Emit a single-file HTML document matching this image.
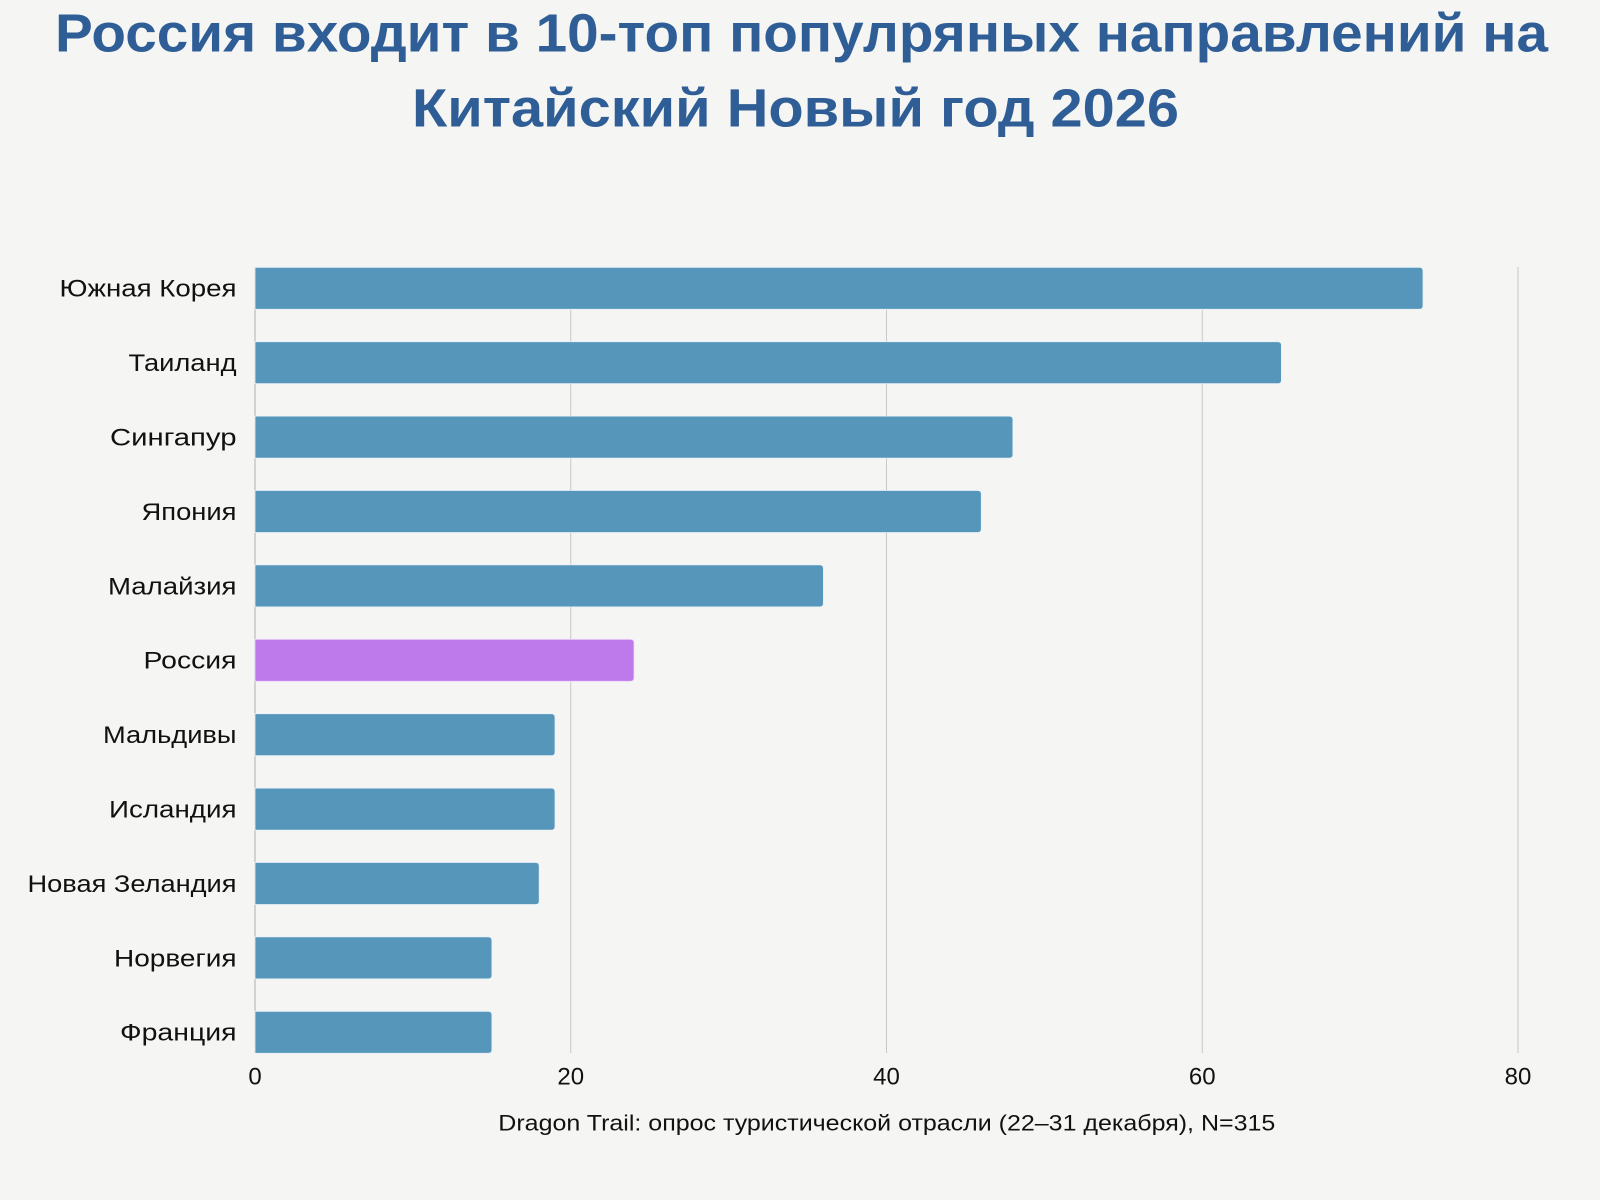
<!DOCTYPE html>
<html>
<head>
<meta charset="utf-8">
<style>
  html,body{margin:0;padding:0;background:#F5F5F3;}
  svg{display:block;}
  .t{font-family:"Liberation Sans",sans-serif;font-weight:bold;fill:#2F5E97;font-size:54px;}
  .l{font-family:"Liberation Sans",sans-serif;fill:#111;font-size:24px;}
  .x{font-family:"Liberation Sans",sans-serif;fill:#111;font-size:24px;}
  .f{font-family:"Liberation Sans",sans-serif;fill:#111;font-size:22px;}
</style>
</head>
<body>
<svg width="1600" height="1200" viewBox="0 0 1600 1200" xmlns="http://www.w3.org/2000/svg">
  <rect x="0" y="0" width="1600" height="1200" fill="#F5F5F3"/>

  <!-- Title -->
  <text class="t" x="55" y="51.7" textLength="1493" lengthAdjust="spacingAndGlyphs">Россия входит в 10-топ популряных направлений на</text>
  <text class="t" x="412" y="126.7" textLength="767" lengthAdjust="spacingAndGlyphs">Китайский Новый год 2026</text>

  <!-- Gridlines -->
  <g stroke="#C8C8C8" stroke-width="1">
    <line x1="570.75" y1="267" x2="570.75" y2="1053"/>
    <line x1="886.5" y1="267" x2="886.5" y2="1053"/>
    <line x1="1202.25" y1="267" x2="1202.25" y2="1053"/>
    <line x1="1518" y1="267" x2="1518" y2="1053" stroke="#D6D6D6" stroke-width="1.5"/>
  </g>
  <line x1="255" y1="267" x2="255" y2="1053" stroke="#B0B0B0" stroke-width="1"/>

  <!-- Bars -->
  <g fill="#5796BB" stroke="#E8F1F6" stroke-width="0.8">
    <path d="M255,267.3 H1419.5 Q1423,267.3 1423,270.8 V305.8 Q1423,309.3 1419.5,309.3 H255 Z"/>
    <path d="M255,341.7 H1277.9 Q1281.4,341.7 1281.4,345.2 V380.2 Q1281.4,383.7 1277.9,383.7 H255 Z"/>
    <path d="M255,416.1 H1009.4 Q1012.9,416.1 1012.9,419.6 V454.6 Q1012.9,458.1 1009.4,458.1 H255 Z"/>
    <path d="M255,490.5 H977.8 Q981.3,490.5 981.3,494 V529 Q981.3,532.5 977.8,532.5 H255 Z"/>
    <path d="M255,564.9 H819.9 Q823.4,564.9 823.4,568.4 V603.4 Q823.4,606.9 819.9,606.9 H255 Z"/>
    <path fill="#BE79EA" stroke="#EBD9F7" d="M255,639.3 H630.5 Q634,639.3 634,642.8 V677.8 Q634,681.3 630.5,681.3 H255 Z"/>
    <path d="M255,713.7 H551.5 Q555,713.7 555,717.2 V752.2 Q555,755.7 551.5,755.7 H255 Z"/>
    <path d="M255,788.1 H551.5 Q555,788.1 555,791.6 V826.6 Q555,830.1 551.5,830.1 H255 Z"/>
    <path d="M255,862.5 H535.7 Q539.2,862.5 539.2,866 V901 Q539.2,904.5 535.7,904.5 H255 Z"/>
    <path d="M255,936.9 H488.4 Q491.9,936.9 491.9,940.4 V975.4 Q491.9,978.9 488.4,978.9 H255 Z"/>
    <path d="M255,1011.3 H488.4 Q491.9,1011.3 491.9,1014.8 V1049.8 Q491.9,1053.3 488.4,1053.3 H255 Z"/>
  </g>

  <!-- Y labels -->
  <g class="l" text-anchor="end">
    <text x="236.5" y="296.7" textLength="177" lengthAdjust="spacingAndGlyphs">Южная Корея</text>
    <text x="236.5" y="371.1" textLength="108" lengthAdjust="spacingAndGlyphs">Таиланд</text>
    <text x="236.5" y="445.5" textLength="126.5" lengthAdjust="spacingAndGlyphs">Сингапур</text>
    <text x="236.5" y="519.9" textLength="95" lengthAdjust="spacingAndGlyphs">Япония</text>
    <text x="236.5" y="594.3" textLength="128.5" lengthAdjust="spacingAndGlyphs">Малайзия</text>
    <text x="236.5" y="668.7" textLength="93" lengthAdjust="spacingAndGlyphs">Россия</text>
    <text x="236.5" y="743.1" textLength="133.5" lengthAdjust="spacingAndGlyphs">Мальдивы</text>
    <text x="236.5" y="817.5" textLength="127.5" lengthAdjust="spacingAndGlyphs">Исландия</text>
    <text x="236.5" y="891.9" textLength="209" lengthAdjust="spacingAndGlyphs">Новая Зеландия</text>
    <text x="236.5" y="966.3" textLength="122.5" lengthAdjust="spacingAndGlyphs">Норвегия</text>
    <text x="236.5" y="1040.7" textLength="116.5" lengthAdjust="spacingAndGlyphs">Франция</text>
  </g>

  <!-- X tick labels -->
  <g class="x" text-anchor="middle">
    <text x="255" y="1084.5">0</text>
    <text x="570.75" y="1084.5">20</text>
    <text x="886.5" y="1084.5">40</text>
    <text x="1202.25" y="1084.5">60</text>
    <text x="1518" y="1084.5">80</text>
  </g>

  <!-- Footer -->
  <text class="f" x="498.3" y="1130.3" textLength="777" lengthAdjust="spacingAndGlyphs">Dragon Trail: опрос туристической отрасли (22–31 декабря), N=315</text>
</svg>
</body>
</html>
